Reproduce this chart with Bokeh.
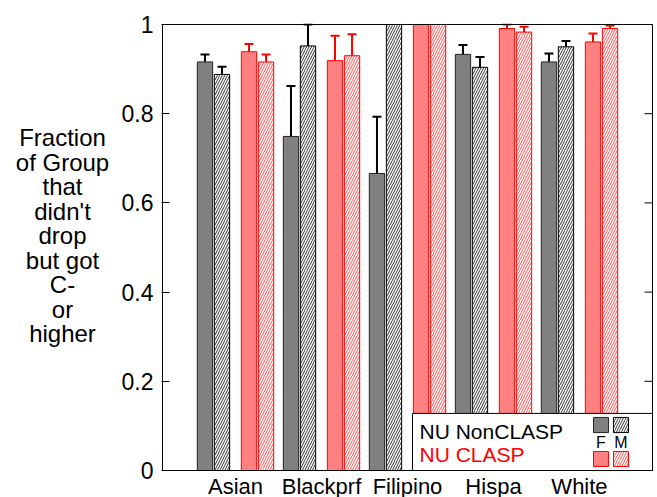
from bokeh.plotting import figure
from bokeh.layouts import row
from bokeh.models import (ColumnDataSource, Range1d, FixedTicker, Whisker,
                          TeeHead, BoxAnnotation, Label)
from bokeh.core.properties import value
from bokeh.transform import dodge
from bokeh.embed import file_html
from bokeh.resources import INLINE
import numpy as np

# ---------------- data ----------------
categories = ["Asian", "Blackprf", "Filipino", "Hispa", "White"]

nonclasp_f    = [0.916, 0.749, 0.666, 0.933, 0.916]
nonclasp_f_lo = [0.900, 0.638, 0.541, 0.912, 0.898]
nonclasp_f_hi = [0.933, 0.862, 0.793, 0.954, 0.935]

nonclasp_m    = [0.888, 0.952, 1.000, 0.904, 0.950]
nonclasp_m_lo = [0.873, 0.909, 1.000, 0.878, 0.936]
nonclasp_m_hi = [0.905, 1.000, 1.000, 0.927, 0.963]

clasp_f    = [0.939, 0.919, 1.000, 0.991, 0.961]
clasp_f_lo = [0.925, 0.864, 1.000, 0.983, 0.942]
clasp_f_hi = [0.956, 0.975, 1.000, 1.000, 0.980]

clasp_m    = [0.916, 0.930, 1.000, 0.983, 0.991]
clasp_m_lo = [0.902, 0.882, 1.000, 0.974, 0.985]
clasp_m_hi = [0.933, 0.978, 1.000, 0.995, 0.998]

y_ticks = [0, 0.2, 0.4, 0.6, 0.8, 1.0]
y_tick_labels = ["0", "0.2", "0.4", "0.6", "0.8", "1"]
y_title_lines = ["Fraction", "of Group", "that", "didn't", "drop",
                 "but got", "C-", "or", "higher"]

FONT = "Liberation Sans"
GRAY = "#808080"
RED_FILL = "#ff8080"
RED = "#ff0000"
BAR_W = 0.178

# ---------------- layout geometry (pixels) ----------------
W, H = 657, 497
YLAB_W = 115
BOX_LEFT, BOX_RIGHT, BOX_TOP, BOX_BOTTOM = 162, 652, 24, 470
PX_X = 86.0           # pixels per category
PX_Y = 446.0          # pixels per unit of y
XB0, XB1 = -0.849, 4.849   # data x at the plot box edges
CAT_LABEL_MID = 485.5      # vertical middle of the category names (px from top)
TITLE_FIRST_MID, TITLE_STEP = 137, 24.5


def py_to_y(py):
    return (BOX_BOTTOM - py) / PX_Y


def no_title(fig):
    try:
        fig.title = None
    except Exception:
        fig.title.visible = False


def nan_if_zero(lo, hi):
    lo = np.array(lo, dtype=float)
    hi = np.array(hi, dtype=float)
    mask = np.isclose(lo, hi)
    lo[mask] = np.nan
    hi[mask] = np.nan
    return lo, hi


nf_lo, nf_hi = nan_if_zero(nonclasp_f_lo, nonclasp_f_hi)
nm_lo, nm_hi = nan_if_zero(nonclasp_m_lo, nonclasp_m_hi)
cf_lo, cf_hi = nan_if_zero(clasp_f_lo, clasp_f_hi)
cm_lo, cm_hi = nan_if_zero(clasp_m_lo, clasp_m_hi)

src = ColumnDataSource(dict(
    x=list(range(len(categories))),
    cat=categories,
    nf=nonclasp_f, nf_lo=nf_lo, nf_hi=nf_hi,
    nm=nonclasp_m, nm_lo=nm_lo, nm_hi=nm_hi,
    cf=clasp_f, cf_lo=cf_lo, cf_hi=cf_hi,
    cm=clasp_m, cm_lo=cm_lo, cm_hi=cm_hi,
))

# frame is 1px larger than the drawn box on left/right/top, and reaches the
# canvas bottom so the category names can be drawn inside it
x_range = Range1d(XB0 - 1 / PX_X, XB1 + 1 / PX_X)
y_range = Range1d(-(H - BOX_BOTTOM) / PX_Y, 1 + 1 / PX_Y)

p = figure(width=W - YLAB_W, height=H, output_backend="svg", toolbar_location=None,
           x_range=x_range, y_range=y_range,
           min_border_left=BOX_LEFT - 1 - YLAB_W, min_border_right=W - BOX_RIGHT - 1,
           min_border_top=BOX_TOP - 1, min_border_bottom=0)
no_title(p)
p.xgrid.visible = False
p.ygrid.visible = False
p.xaxis.visible = False
p.outline_line_color = None
p.background_fill_color = "white"
p.border_fill_color = "white"

p.vbar(x=dodge("x", -0.355), top="nf", bottom=0, width=BAR_W, source=src,
       fill_color=GRAY, line_color="#222222", line_width=1)
p.vbar(x=dodge("x", -0.157), top="nm", bottom=0, width=BAR_W, source=src,
       fill_color="white", line_color="black", line_width=1,
       hatch_pattern="/", hatch_color="#333333", hatch_scale=5, hatch_weight=1)
p.vbar(x=dodge("x", 0.157), top="cf", bottom=0, width=BAR_W, source=src,
       fill_color=RED_FILL, line_color=RED, line_width=1)
p.vbar(x=dodge("x", 0.355), top="cm", bottom=0, width=BAR_W, source=src,
       fill_color="white", line_color=RED, line_width=1,
       hatch_pattern="/", hatch_color="#ff5555", hatch_scale=5, hatch_weight=1)

for off, lo, hi, col in [(-0.355, "nf_lo", "nf_hi", "black"),
                         (-0.157, "nm_lo", "nm_hi", "black"),
                         (0.157, "cf_lo", "cf_hi", RED),
                         (0.355, "cm_lo", "cm_hi", RED)]:
    p.add_layout(Whisker(base=dodge("x", off), lower=lo, upper=hi, source=src,
                         dimension="height", line_color=col, line_width=2,
                         upper_head=TeeHead(size=9, line_color=col, line_width=2),
                         lower_head=TeeHead(size=9, line_color=col, line_width=2)))

# mirrored inward ticks on the right side of the box
p.segment(x0=[XB1 - 8 / PX_X] * len(y_ticks), x1=[XB1] * len(y_ticks),
          y0=y_ticks, y1=y_ticks, line_color="black", line_width=1)

# plot box
p.add_layout(BoxAnnotation(left=XB0, right=XB1, bottom=0, top=1,
                           fill_alpha=0, line_color="black", line_width=1,
                           line_alpha=1.0))

# category names below the box
p.text(x="x", y=py_to_y(CAT_LABEL_MID), text="cat", source=src,
       text_font=value(FONT), text_font_size=value("22px"), text_color="black",
       text_align="center", text_baseline="middle")

ya = p.yaxis[0]
ya.ticker = FixedTicker(ticks=y_ticks)
ya.major_label_overrides = {t: l for t, l in zip(y_ticks, y_tick_labels)}
ya.major_tick_in = 8
ya.major_tick_out = 0
ya.minor_tick_line_color = None
ya.axis_line_color = None
ya.major_label_text_font = FONT
ya.major_label_text_font_size = "23px"
ya.major_label_text_color = "black"
ya.major_label_standoff = 8

# legend (drawn manually, in data units)
p.add_layout(BoxAnnotation(left=2.058, right=XB1, bottom=0, top=0.128,
                           fill_color="white", fill_alpha=1.0,
                           line_color="black", line_width=1, line_alpha=1.0))
p.add_layout(Label(x=2.14, y=0.0875, text="NU NonCLASP", text_font=FONT,
                   text_font_size="21px", text_color="black",
                   text_baseline="middle", text_align="left"))
p.add_layout(Label(x=2.14, y=0.0359, text="NU CLASP", text_font=FONT,
                   text_font_size="21px", text_color=RED,
                   text_baseline="middle", text_align="left"))
p.add_layout(BoxAnnotation(left=4.163, right=4.337, bottom=0.085, top=0.119,
                           fill_color=GRAY, fill_alpha=1.0,
                           line_color="#222222", line_width=1, line_alpha=1.0))
p.add_layout(BoxAnnotation(left=4.395, right=4.570, bottom=0.085, top=0.119,
                           fill_color="white", fill_alpha=1.0,
                           line_color="black", line_width=1, line_alpha=1.0,
                           hatch_pattern="/", hatch_color="#333333",
                           hatch_scale=5, hatch_weight=1))
p.add_layout(BoxAnnotation(left=4.163, right=4.337, bottom=0.009, top=0.0426,
                           fill_color=RED_FILL, fill_alpha=1.0,
                           line_color=RED, line_width=1, line_alpha=1.0))
p.add_layout(BoxAnnotation(left=4.395, right=4.570, bottom=0.009, top=0.0426,
                           fill_color="white", fill_alpha=1.0,
                           line_color=RED, line_width=1, line_alpha=1.0,
                           hatch_pattern="/", hatch_color="#ff5555",
                           hatch_scale=5, hatch_weight=1))
p.add_layout(Label(x=4.250, y=0.0628, text="F", text_font=FONT,
                   text_font_size="16px", text_color="black",
                   text_baseline="middle", text_align="center"))
p.add_layout(Label(x=4.483, y=0.0628, text="M", text_font=FONT,
                   text_font_size="16px", text_color="black",
                   text_baseline="middle", text_align="center"))

# ---------------- y-axis title panel (left), sharing the main y scale ----------------
ylab = figure(width=YLAB_W, height=H, output_backend="svg",
              toolbar_location=None, x_range=Range1d(0, YLAB_W),
              y_range=p.y_range,
              min_border=0, min_border_left=0, min_border_right=0,
              min_border_top=BOX_TOP - 1, min_border_bottom=0)
no_title(ylab)
ylab.xgrid.visible = False
ylab.ygrid.visible = False
ylab.axis.visible = False
ylab.outline_line_color = None
ylab.background_fill_color = "white"
ylab.border_fill_color = "white"
ylab.text(x=[62] * len(y_title_lines),
          y=[py_to_y(TITLE_FIRST_MID + TITLE_STEP * i) for i in range(len(y_title_lines))],
          text=y_title_lines, text_font=value(FONT), text_font_size=value("24px"),
          text_color="black", text_align="center", text_baseline="middle")

layout = row(ylab, p, spacing=0)
open("out.html", "w").write(file_html(layout, INLINE))
